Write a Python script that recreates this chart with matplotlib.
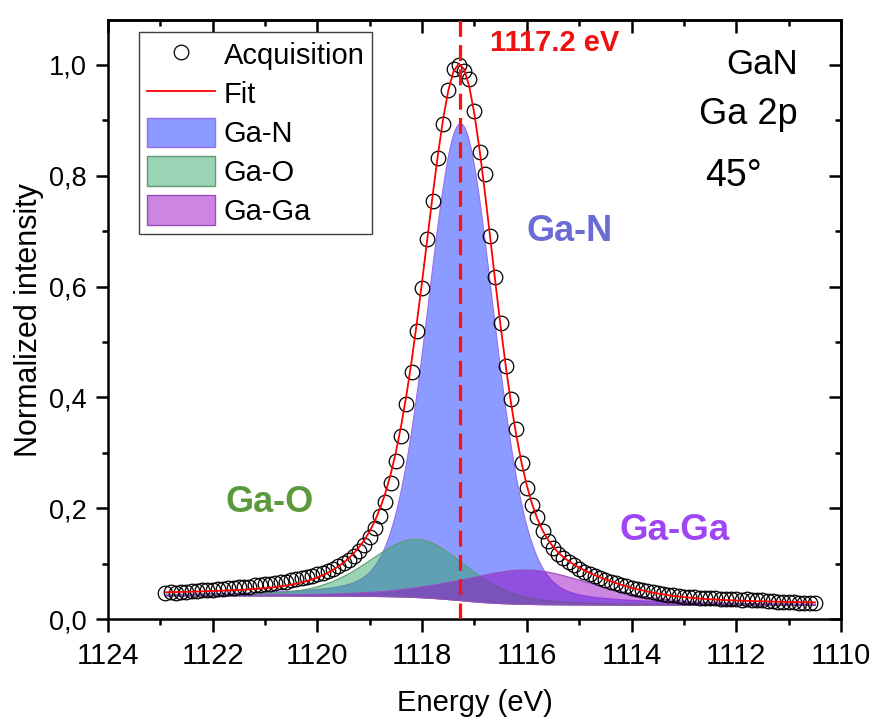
import numpy as np
import matplotlib
matplotlib.use("Agg")
import matplotlib.pyplot as plt
from matplotlib.lines import Line2D
from matplotlib.patches import Patch
from matplotlib.ticker import MultipleLocator, FuncFormatter

plt.rcParams["font.family"] = ["Liberation Sans", "DejaVu Sans"]

# Ga 2p spectrum, 0.1 eV step, from 1122.9 down to 1110.5 eV
energy = np.round(np.arange(1122.9, 1110.45, -0.1), 1)
intensity = [
    0.048, 0.049, 0.048, 0.050, 0.050, 0.051, 0.051, 0.052, 0.053, 0.053,
    0.054, 0.055, 0.056, 0.056, 0.058, 0.059, 0.059, 0.061, 0.062, 0.063,
    0.064, 0.066, 0.067, 0.068, 0.070, 0.072, 0.074, 0.076, 0.078, 0.081,
    0.084, 0.087, 0.091, 0.096, 0.101, 0.107, 0.114, 0.123, 0.134, 0.148,
    0.165, 0.186, 0.212, 0.245, 0.285, 0.330, 0.389,
    0.446, 0.519, 0.597, 0.685, 0.755, 0.832, 0.893, 0.955, 0.993, 1.000,
    0.989, 0.974, 0.916, 0.842, 0.803, 0.692, 0.618, 0.534, 0.457, 0.398,
    0.344, 0.281, 0.236, 0.206, 0.184, 0.160, 0.142, 0.128, 0.118, 0.110,
    0.103, 0.097, 0.091, 0.086, 0.082, 0.078, 0.075, 0.071, 0.068, 0.065,
    0.062, 0.060, 0.057, 0.055, 0.053, 0.051, 0.049, 0.047, 0.046, 0.044,
    0.043, 0.042, 0.041, 0.041, 0.040, 0.039, 0.039, 0.038, 0.039, 0.037,
    0.037, 0.036, 0.036, 0.035, 0.036, 0.035, 0.034, 0.034, 0.033, 0.033,
    0.032, 0.032, 0.031, 0.031, 0.030, 0.030, 0.030, 0.029,
]

# fitted components (pseudo-Voigt): centre, height, FWHM, Lorentzian fraction
peak_names = ["Ga-N", "Ga-O", "Ga-Ga"]
peak_centres = [1117.27, 1118.1, 1116.0]
peak_heights = [0.86, 0.105, 0.062]
peak_fwhm = [1.5, 2.2, 3.0]
peak_lorentz = [0.2, 0.3, 0.4]
bg_high, bg_low = 0.043, 0.026   # Shirley background end levels
peak_pos = 1117.27

fill_colors = [(0.10, 0.22, 1.0, 0.5), (0.18, 0.65, 0.39, 0.48), (0.59, 0.0, 0.75, 0.48)]
edge_colors = ["#9a6cf0", "#5c9c72", "#9a4fc0"]
label_colors = ["#6b6bd6", "#5b9a3c", "#9f45f5"]


def pvoigt(x, c, h, w, eta):
    g = np.exp(-4 * np.log(2) * (x - c) ** 2 / w ** 2)
    l = 1 / (1 + 4 * (x - c) ** 2 / w ** 2)
    return h * ((1 - eta) * g + eta * l)


e_fine = np.linspace(energy[0], energy[-1], 1500)
comps = [pvoigt(e_fine, c, h, w, m) for c, h, w, m in
         zip(peak_centres, peak_heights, peak_fwhm, peak_lorentz)]
total = np.sum(comps, axis=0)
area_right = np.cumsum(total[::-1])[::-1]
bg = bg_low + (bg_high - bg_low) * area_right / area_right[0]
fit_fine = bg + total
fit = np.interp(energy[::-1], e_fine[::-1], fit_fine[::-1])[::-1]

fig = plt.figure(figsize=(8.77, 7.26), dpi=100)
ax = fig.add_axes([0.123, 0.147, 0.836, 0.825])

for comp, fc, ec, z in zip(comps, fill_colors, edge_colors, [2, 3, 4]):
    ax.fill_between(e_fine, bg, bg + comp, facecolor=fc, edgecolor=ec, lw=0.8, zorder=z)

ax.plot(energy, intensity, "o", mfc="none", mec="black", ms=10.5, mew=0.9, zorder=5)
ax.axvline(peak_pos, color="#ff1010", lw=2.3, ls=(0, (5, 2.6)), zorder=6)
ax.plot(energy, fit, color="#ff0000", lw=1.3, zorder=7)

ax.set_xlim(1124, 1110)
ax.set_ylim(0, 1.08)
ax.xaxis.set_major_locator(MultipleLocator(2))
ax.xaxis.set_minor_locator(MultipleLocator(1))
ax.yaxis.set_major_locator(MultipleLocator(0.2))
ax.yaxis.set_minor_locator(MultipleLocator(0.1))
ax.yaxis.set_major_formatter(FuncFormatter(lambda v, p: f"{v:.1f}".replace(".", ",")))
ax.tick_params(which="major", direction="out", length=9, width=1.8, pad=6)
ax.tick_params(which="minor", direction="out", length=4.5, width=1.8)
ax.tick_params(axis="x", labelsize=21, pad=7)
ax.tick_params(axis="y", labelsize=19.5)
for s in ax.spines.values():
    s.set_linewidth(1.8)

for side in ["top", "right"]:
    sec = ax.secondary_xaxis("top") if side == "top" else ax.secondary_yaxis("right")
    axis = sec.xaxis if side == "top" else sec.yaxis
    if side == "top":
        axis.set_major_locator(MultipleLocator(2))
        axis.set_minor_locator(MultipleLocator(1))
    else:
        axis.set_major_locator(MultipleLocator(0.2))
        axis.set_minor_locator(MultipleLocator(0.1))
    sec.tick_params(which="major", direction="in", length=9, width=1.8)
    sec.tick_params(which="minor", direction="in", length=4.5, width=1.8)
    sec.tick_params(labeltop=False, labelright=False)
    for s in sec.spines.values():
        s.set_linewidth(1.8)

ax.set_xlabel("Energy (eV)", fontsize=21, labelpad=14)
ax.set_ylabel("Normalized intensity", fontsize=22, labelpad=4)

ax.text(1115.46, 1.04, "1117.2 eV", color="#f01010", fontsize=21, fontweight="bold",
        ha="center", va="center")
ax.text(1111.5, 1.0, "GaN", fontsize=25, ha="center", va="center")
ax.text(1111.78, 0.91, "Ga 2p", fontsize=26, ha="center", va="center")
ax.text(1112.05, 0.80, "45°", fontsize=27, ha="center", va="center")
ax.text(1115.18, 0.70, "Ga-N", color=label_colors[0], fontsize=26, fontweight="bold",
        ha="center", va="center")
ax.text(1120.92, 0.21, "Ga-O", color=label_colors[1], fontsize=26, fontweight="bold",
        ha="center", va="center")
ax.text(1113.17, 0.16, "Ga-Ga", color=label_colors[2], fontsize=26.5, fontweight="bold",
        ha="center", va="center")

handles = [Line2D([], [], marker="o", ls="none", mfc="none", mec="black", ms=10.5, mew=0.9),
           Line2D([], [], color="#ff0000", lw=1.3)]
handles += [Patch(facecolor=fc, edgecolor=ec, lw=1) for fc, ec in zip(fill_colors, edge_colors)]
ax.legend(handles, ["Acquisition", "Fit"] + peak_names, loc="upper left",
          bbox_to_anchor=(0.043, 0.98), borderaxespad=0, fontsize=21, frameon=True,
          fancybox=False, edgecolor="#404040", framealpha=1, handlelength=2.35,
          handleheight=1.2, labelspacing=0.28, handletextpad=0.3, borderpad=0.25)

fig.savefig("out.png", dpi=100)
